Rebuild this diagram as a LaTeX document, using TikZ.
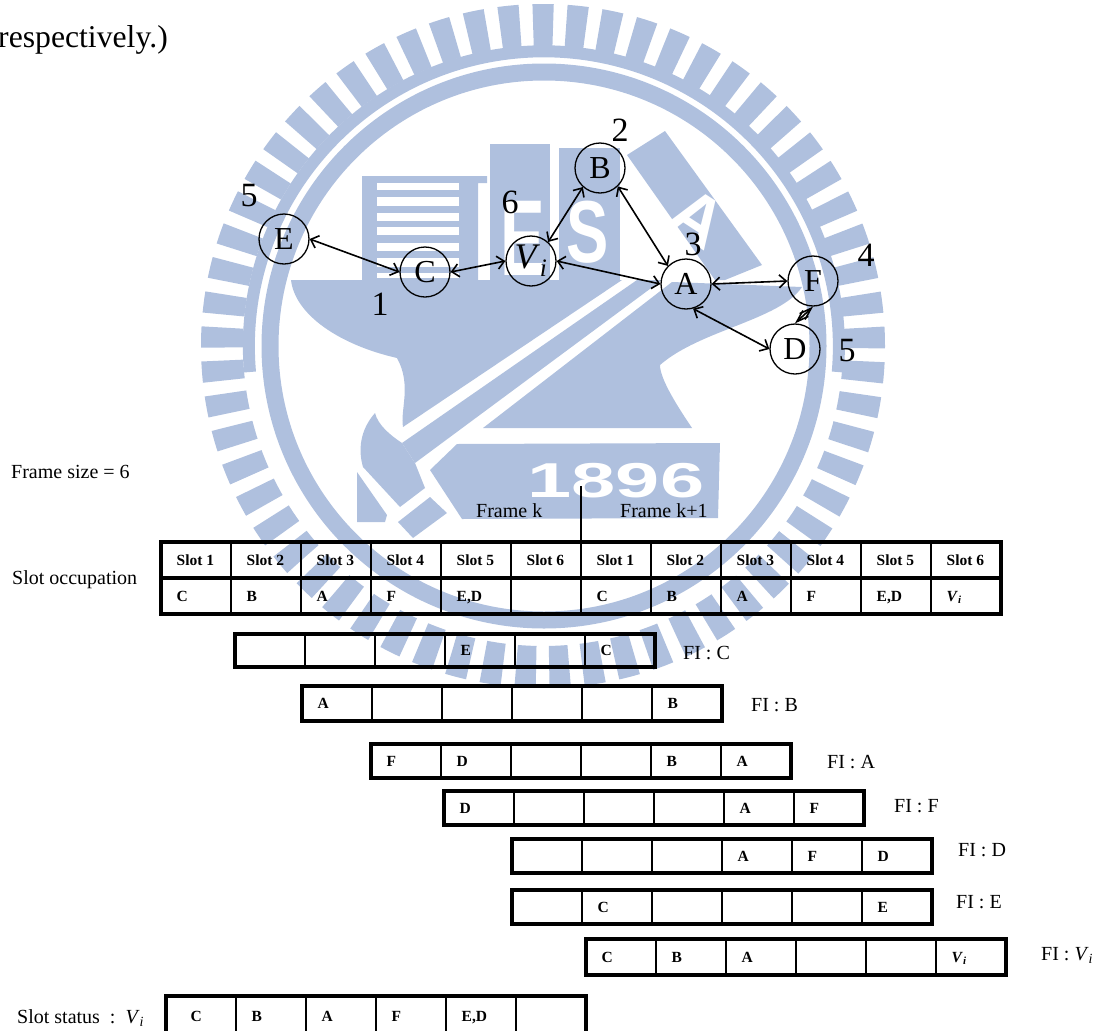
\documentclass[tikz,border=0pt]{standalone}
\usepackage{fontspec}
\setmainfont{Liberation Serif}
\newfontfamily\wmfont{Liberation Sans}
\usetikzlibrary{arrows.meta,positioning,calc}
\definecolor{cWm}{HTML}{AFC0DE}
\newcommand{\Vsub}{\textit{V}\textsubscript{\textit{i}}}
\tikzset{
  vtx/.style   ={circle,draw=black,line width=1.3pt,minimum size=50pt,inner sep=0pt,
                 font=\fontsize{32}{36}\selectfont},
  num/.style   ={inner sep=0pt,font=\fontsize{34}{38}\selectfont},
  lnk/.style   ={<->,line width=1.6pt},
  lbl/.style   ={anchor=west,inner sep=0pt,font=\fontsize{20}{24}\selectfont},
  cellbox/.style={draw=black,line width=1.6pt,anchor=north west,minimum width=70pt,
                 inner sep=0pt,outer sep=0pt},
  celltxt/.style={anchor=west,inner sep=0pt,xshift=15.5pt,text height=10pt,text depth=0pt,
                 font=\fontsize{15.5}{18}\selectfont\bfseries},
  rowframe/.style={draw=black,line width=4pt},
  wm/.style    ={fill=cWm,draw=none},
  wmcut/.style ={fill=white,draw=none},
  wmtxt/.style ={inner sep=0pt,text=white,font=\wmfont\bfseries},
}

\begin{document}
\begin{tikzpicture}[x=1pt, y=-1pt, >={Straight Barb[length=7pt,width=13pt]}]
\clip (0,0) rectangle (1096,1031);

% ===== logo behind the figure ===========================================
\draw[cWm,line width=42pt,dash pattern=on 20pt off 13.06pt,dash phase=1.7pt] (543,346) circle (321pt);
\draw[cWm,line width=12pt] (250,372) arc[start angle=185,end angle=-5,radius=295pt];
\draw[cWm,line width=17pt] (544,346) circle (274pt);
% anvil, cut in three by the handle
\fill[wm] (291,280) -- (622,280) -- (403,427) .. controls (400,410) and (412,385) .. (397,358)
  .. controls (340,345) and (295,315) .. (291,280) -- cycle;
\fill[wm] (402,443) -- (637,280) -- (662,280) -- (415,463) -- cycle;
\fill[wm] (672,282) -- (802,287) .. controls (780,320) and (700,330) .. (660,365)
  .. controls (660,380) and (680,410) .. (692,428) -- (483,428) -- cycle;
% hammer head
\fill[wm] (375,413) .. controls (378,425) and (390,435) .. (402,443) -- (415,463) -- (425,488)
  -- (400,507) -- (363,467) .. controls (358,450) and (360,430) .. (375,413) -- cycle;
\fill[wm] (357,472) -- (387,515) -- (385,522) -- (357,522) -- cycle;
\fill[wm] (398,522) -- (430,497) -- (447,513) -- (413,538) -- cycle;
\fill[wm] (430,470) -- (457,444) -- (720,443) -- (718,518) -- (462,519) -- cycle;
\node[wmtxt] (wyear) at (616,481) {\fontsize{49}{50}\selectfont\scalebox{1.62}[1]{1896}};
% buildings
\fill[wm] (362,176) -- (487,176) -- (487,183) -- (478,183) -- (478,280) -- (362,280) -- cycle;
\foreach \yy/\hh in {183/7,197/9,213/8,227/8,243/8,258/9,273/5}{%
  \fill[wmcut] (377,\yy) rectangle (459,\yy+\hh);
}
\fill[wm] (490,144) rectangle (550,280);
\fill[wm] (559,148) rectangle (620,280);
\fill[wm] (665,131) -- (762,265) -- (725,280) -- (715,280) -- (627,155) -- cycle;
\node[wmtxt] (wlete) at (523,238) {\fontsize{108}{110}\selectfont\scalebox{.62}[1]{E}};
\node[wmtxt] (wlets) at (588,232) {\fontsize{88}{90}\selectfont\scalebox{.72}[1]{S}};
\node[wmtxt,rotate=-33] (wleta) at (698,218) {\fontsize{70}{72}\selectfont A};

% ===== slot graph =======================================================
\node[vtx] (E)  at (284,239) {E};
\node[vtx] (C)  at (425,272) {C};
\node[vtx] (Vi) at (531,261) {\fontsize{36}{38}\selectfont\Vsub\hspace{8pt}};
\node[vtx] (B)  at (600,168) {B};
\node[vtx] (A)  at (686,284) {A};
\node[vtx] (F)  at (813,281) {F};
\node[vtx] (D)  at (795,349) {D};
\node[num] (nE) at (249,196) {5};
\node[num] (nC) at (380,304) {1};
\node[num] (nV) at (510,202) {6};
\node[num] (nB) at (620,130) {2};
\node[num] (nA) at (693,244) {3};
\node[num] (nF) at (866,255) {4};
\node[num] (nD) at (847,351) {5};
\draw[lnk] (E.east) -- (C.west);
\draw[lnk] (C.east) -- (Vi.west);
\draw[lnk] (Vi.48) -- (B.228);
\draw[lnk] (Vi.east) -- (A.west);
\draw[lnk] (B.-46) -- (A.135);
\draw[lnk] (A.east) -- (F.west);
\draw[lnk] (A.-74) -- (D.west);
\draw[lnk,>={Straight Barb[length=12pt,width=8pt]}] (F.south) -- (D.north);

% ===== slot tables ======================================================
\foreach \r/\xs/\yt/\yb/\nc/\cells in {%
  slot/161/542/578/11/{Slot 1,Slot 2,Slot 3,Slot 4,Slot 5,Slot 6,Slot 1,Slot 2,Slot 3,Slot 4,Slot 5,Slot 6},
  occ/161/578/614/11/{C,B,A,F,{E,D},{},C,B,A,F,{E,D},\Vsub},
  fic/235/634/667/5/{{},{},{},E,{},C},
  fib/302/686/721/5/{A,{},{},{},{},B},
  fia/371/744/778/5/{F,D,{},{},B,A},
  fif/444/791/825/5/{D,{},{},{},A,F},
  fid/512/839/873/5/{{},{},{},A,F,D},
  fie/512/890/924/5/{{},C,{},{},{},E},
  fiv/586/939/975/5/{C,B,A,{},{},\Vsub},
  sta/166/996/1036/5/{\hspace{9pt}C,B,A,F,{E,D},{}}}{%
    \pgfmathsetmacro\h{\yb-\yt}
    \foreach [count=\i from 0] \c in \cells {%
      \node[cellbox,minimum height=\h pt] (\r\i) at (\xs+70*\i,\yt) {};
      \node[celltxt] at (\r\i.west) {\c};
    }
    \draw[rowframe] (\r0.north west) rectangle (\r\nc.south east);
  }

% ===== labels ===========================================================
\node[lbl,anchor=base west,font=\fontsize{31.7}{34}\selectfont] (txt) at (-2,47) {respectively.)};
\node[lbl] (fsize) at (11,472) {Frame size = 6};
\node[lbl] (focc)  at (12,580) {Slot occupation};
\node[lbl] (fk)    at (476,511) {Frame k};
\node[lbl] (fk1)   at (620,511) {Frame k+1};
\coordinate (fbtop) at (581,486);
\draw[line width=1.5pt] (fbtop) -- (slot6.north west);
\node[lbl] (lc) at (683,653) {FI : C};
\node[lbl] (lb) at (751,705) {FI : B};
\node[lbl] (la) at (827,762) {FI : A};
\node[lbl] (lf) at (894,806) {FI : F};
\node[lbl] (ld) at (958,850) {FI : D};
\node[lbl] (le) at (956,902) {FI : E};
\node[lbl] (lv) at (1041,955) {FI : \Vsub};
\node[lbl] (ls) at (17,1018) {Slot status\ \ :\ \ \Vsub};
\end{tikzpicture}
\end{document}
